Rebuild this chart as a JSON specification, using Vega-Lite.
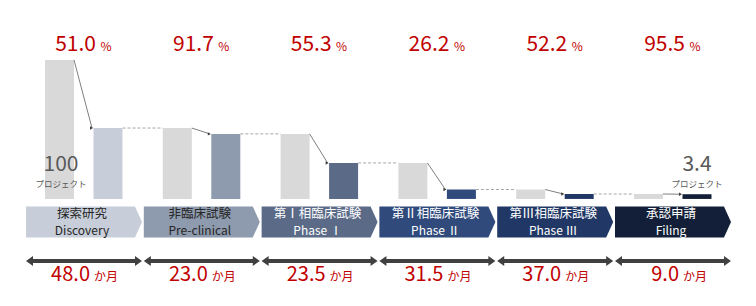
{
  "$schema": "https://vega.github.io/schema/vega-lite/v6.json",
  "width": 756,
  "height": 306,
  "autosize": {"type": "none"},
  "padding": 0,
  "background": "white",
  "config": {"view": {"stroke": null}, "font": "Noto Sans CJK JP"},
  "data": {
    "values": [
      {"stage": 0, "ja": "探索研究", "en": "Discovery", "start": 100, "end": 51.0, "rate": 51.0, "months": 48.0},
      {"stage": 1, "ja": "非臨床試験", "en": "Pre-clinical", "start": 51.0, "end": 46.8, "rate": 91.7, "months": 23.0},
      {"stage": 2, "ja": "第Ⅰ相臨床試験", "en": "Phase Ⅰ", "start": 46.8, "end": 25.9, "rate": 55.3, "months": 23.5},
      {"stage": 3, "ja": "第Ⅱ相臨床試験", "en": "Phase Ⅱ", "start": 25.9, "end": 6.8, "rate": 26.2, "months": 31.5},
      {"stage": 4, "ja": "第Ⅲ相臨床試験", "en": "Phase Ⅲ", "start": 6.8, "end": 3.55, "rate": 52.2, "months": 37.0},
      {"stage": 5, "ja": "承認申請", "en": "Filing", "start": 3.55, "end": 3.4, "rate": 95.5, "months": 9.0}
    ]
  },
  "encoding": {
    "x": {"field": "stage", "type": "quantitative", "scale": {"domain": [-0.2207, 6.197], "nice": false, "zero": false}, "axis": null}
  },
  "layer": [
    {
      "mark": {"type": "rect", "color": "#d9d9d9", "xOffset": 19, "x2Offset": 48},
      "encoding": {
        "x2": {"field": "stage"},
        "y": {"field": "start", "type": "quantitative", "scale": {"domain": [-77, 143.1], "nice": false, "zero": false}, "axis": null},
        "y2": {"datum": 0}
      }
    },
    {
      "mark": {"type": "rect", "xOffset": 67.5, "x2Offset": 96.5},
      "encoding": {
        "x2": {"field": "stage"},
        "y": {"field": "end", "type": "quantitative", "scale": {"domain": [-77, 143.1], "nice": false, "zero": false}, "axis": null},
        "y2": {"datum": 0},
        "color": {"field": "stage", "type": "ordinal", "scale": {"range": ["#c8ced9", "#8e9aad", "#5a6a87", "#2f4a7b", "#213866", "#131f38"]}, "legend": null}
      }
    },
    {
      "mark": {"type": "rule", "color": "#7f7f7f", "strokeWidth": 1, "xOffset": 48, "x2Offset": 66},
      "encoding": {
        "x2": {"field": "stage"},
        "y": {"field": "start", "type": "quantitative", "scale": {"domain": [-77, 143.1], "nice": false, "zero": false}, "axis": null},
        "y2": {"field": "end"}
      }
    },
    {
      "mark": {"type": "point", "shape": "triangle-right", "size": 12, "filled": true, "opacity": 1, "color": "#404040", "xOffset": 65.5},
      "encoding": {
        "y": {"field": "end", "type": "quantitative", "scale": {"domain": [-77, 143.1], "nice": false, "zero": false}, "axis": null}
      }
    },
    {
      "transform": [{"filter": "datum.stage < 5"}],
      "mark": {"type": "rule", "color": "#a6a6a6", "strokeWidth": 1, "strokeDash": [3, 2], "xOffset": 96.5, "x2Offset": 136.8},
      "encoding": {
        "x2": {"field": "stage"},
        "y": {"field": "end", "type": "quantitative", "scale": {"domain": [-77, 143.1], "nice": false, "zero": false}, "axis": null},
        "y2": {"field": "end"}
      }
    },
    {
      "transform": [{"filter": "datum.stage == 0"}],
      "mark": {"type": "text", "fontSize": 21, "color": "#595959", "align": "center", "baseline": "alphabetic", "xOffset": 35},
      "encoding": {
        "text": {"field": "start", "type": "quantitative", "format": ".0f"},
        "y": {"datum": 20.0, "type": "quantitative", "scale": {"domain": [-77, 143.1], "nice": false, "zero": false}, "axis": null}
      }
    },
    {
      "transform": [{"filter": "datum.stage == 5"}],
      "mark": {"type": "text", "fontSize": 21, "color": "#595959", "align": "center", "baseline": "alphabetic", "xOffset": 82},
      "encoding": {
        "text": {"field": "end", "type": "quantitative", "format": ".1f"},
        "y": {"datum": 20.0, "type": "quantitative", "scale": {"domain": [-77, 143.1], "nice": false, "zero": false}, "axis": null}
      }
    },
    {
      "transform": [{"filter": "datum.stage == 0"}],
      "mark": {"type": "text", "fontSize": 8.5, "color": "#595959", "align": "center", "baseline": "top", "xOffset": 35, "text": "プロジェクト"},
      "encoding": {
        "y": {"datum": 13.8, "type": "quantitative", "scale": {"domain": [-77, 143.1], "nice": false, "zero": false}, "axis": null}
      }
    },
    {
      "transform": [{"filter": "datum.stage == 5"}],
      "mark": {"type": "text", "fontSize": 8.5, "color": "#595959", "align": "center", "baseline": "top", "xOffset": 82, "text": "プロジェクト"},
      "encoding": {
        "y": {"datum": 13.8, "type": "quantitative", "scale": {"domain": [-77, 143.1], "nice": false, "zero": false}, "axis": null}
      }
    },
    {
      "mark": {"type": "point", "shape": "M-1,-0.267L0.879,-0.267L1,0L0.879,0.267L-1,0.267Z", "size": 13456, "filled": true, "opacity": 1, "strokeWidth": 0, "xOffset": 58},
      "encoding": {
        "y": {"datum": -16.55, "type": "quantitative", "scale": {"domain": [-77, 143.1], "nice": false, "zero": false}, "axis": null},
        "color": {"field": "stage", "type": "ordinal", "legend": null}
      }
    },
    {
      "mark": {"type": "text", "fontSize": 12.5, "align": "center", "baseline": "alphabetic", "xOffset": 56},
      "encoding": {
        "text": {"field": "ja"},
        "y": {"datum": -14.0, "type": "quantitative", "scale": {"domain": [-77, 143.1], "nice": false, "zero": false}, "axis": null},
        "color": {"condition": {"test": "datum.stage < 2", "value": "#262626"}, "value": "#ffffff"}
      }
    },
    {
      "mark": {"type": "text", "fontSize": 12, "align": "center", "baseline": "alphabetic", "xOffset": 56},
      "encoding": {
        "text": {"field": "en"},
        "y": {"datum": -26.2, "type": "quantitative", "scale": {"domain": [-77, 143.1], "nice": false, "zero": false}, "axis": null},
        "color": {"condition": {"test": "datum.stage < 2", "value": "#262626"}, "value": "#ffffff"}
      }
    },
    {
      "mark": {"type": "point", "shape": "M-1,0L-0.879,-0.086L-0.879,-0.0345L0.879,-0.0345L0.879,-0.086L1,0L0.879,0.086L0.879,0.0345L-0.879,0.0345L-0.879,0.086Z", "size": 13456, "filled": true, "opacity": 1, "strokeWidth": 0, "color": "#404040", "xOffset": 58},
      "encoding": {
        "y": {"datum": -44.6, "type": "quantitative", "scale": {"domain": [-77, 143.1], "nice": false, "zero": false}, "axis": null}
      }
    },
    {
      "mark": {"type": "text", "fontSize": 20, "color": "#c00000", "align": "right", "baseline": "alphabetic", "xOffset": 64},
      "encoding": {
        "text": {"field": "months", "type": "quantitative", "format": ".1f"},
        "y": {"datum": -59.0, "type": "quantitative", "scale": {"domain": [-77, 143.1], "nice": false, "zero": false}, "axis": null}
      }
    },
    {
      "mark": {"type": "text", "fontSize": 12, "color": "#c00000", "align": "left", "baseline": "alphabetic", "xOffset": 68, "text": "か月"},
      "encoding": {
        "y": {"datum": -59.0, "type": "quantitative", "scale": {"domain": [-77, 143.1], "nice": false, "zero": false}, "axis": null}
      }
    },
    {
      "mark": {"type": "text", "fontSize": 21, "color": "#c00000", "align": "right", "baseline": "alphabetic", "xOffset": 70},
      "encoding": {
        "text": {"field": "rate", "type": "quantitative", "format": ".1f"},
        "y": {"datum": 106.5, "type": "quantitative", "scale": {"domain": [-77, 143.1], "nice": false, "zero": false}, "axis": null}
      }
    },
    {
      "mark": {"type": "text", "fontSize": 12, "color": "#c00000", "align": "left", "baseline": "alphabetic", "xOffset": 74.5, "text": "%"},
      "encoding": {
        "y": {"datum": 106.5, "type": "quantitative", "scale": {"domain": [-77, 143.1], "nice": false, "zero": false}, "axis": null}
      }
    }
  ]
}
